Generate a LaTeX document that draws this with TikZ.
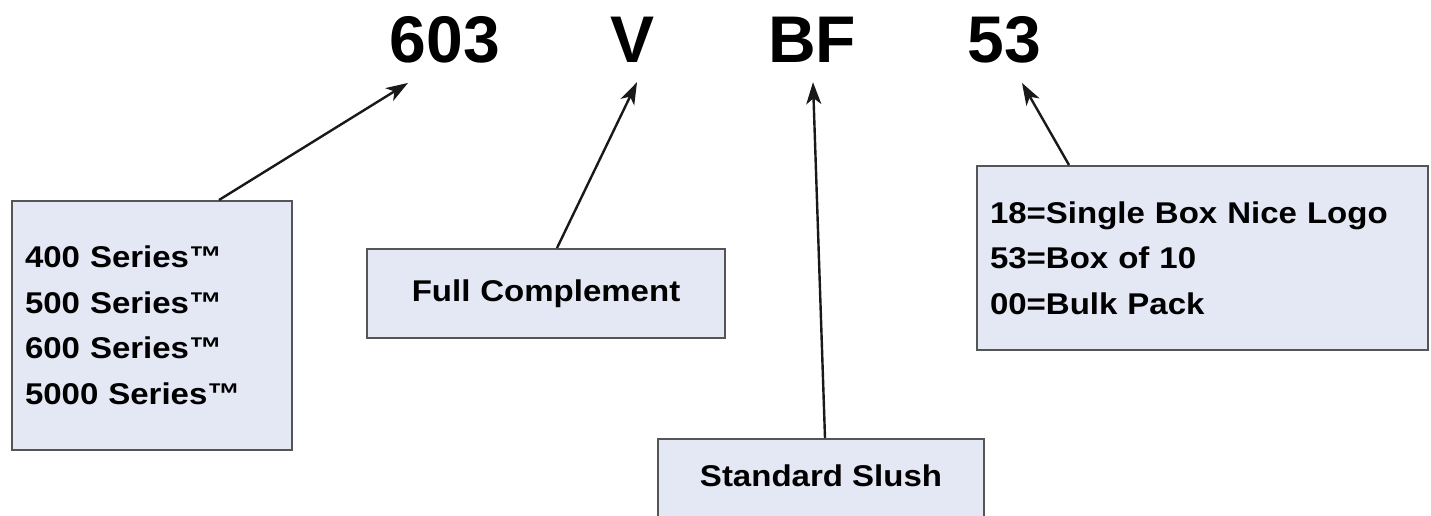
\documentclass[tikz,border=0pt]{standalone}
\usepackage{fontspec}
\setmainfont{Liberation Sans}
\newfontfamily\boxfont[FakeStretch=1.1]{Liberation Sans}
\usetikzlibrary{arrows.meta}
\definecolor{boxfill}{HTML}{E4E7F4}
\definecolor{boxline}{HTML}{555555}
\begin{document}
\begin{tikzpicture}[x=1pt,y=-1pt,
  codepart/.style={font=\bfseries\fontsize{66}{66}\selectfont, inner sep=0pt, anchor=base},
  infobox/.style={draw=boxline, line width=2pt, fill=boxfill, inner xsep=13pt, inner ysep=0pt,
    font=\boxfont\bfseries\fontsize{30}{45.5}\selectfont},
  arr/.style={line width=2.4pt, draw=black!90, -{Stealth[length=22pt,width=15pt,inset=6pt]}}]
\useasboundingbox (0,0) rectangle (1431,516);
\fill[white] (0,0) rectangle (1431,516);
\clip (0,0) rectangle (1431,516);

% code parts
\node[codepart] (t603) at (445,63) {603};
\node[codepart] (tV)   at (633,63) {V};
\node[codepart] (tBF)  at (812,63) {BF};
\node[codepart] (t53)  at (1004,63) {53};

% boxes
\node[infobox, align=left, text width=254pt, minimum height=249pt] (b1) at (152,325.5)
  {400 Series™\\500 Series™\\600 Series™\\5000 Series™};
\node[infobox, align=center, text width=332pt, minimum height=89pt] (b2) at (546,293.5)
  {Full Complement};
\node[infobox, align=left, text width=425pt, minimum height=184pt] (b3) at (1202.5,258)
  {18=Single Box Nice Logo\\53=Box of 10\\00=Bulk Pack};
\node[infobox, anchor=north, minimum width=326pt, text height=47pt, text depth=55pt] (b4) at (821,438)
  {Standard Slush};

% connectors
\draw[arr] ([xshift=208pt]b1.north west) -- ([xshift=-37pt,yshift=-19pt]t603.south);
\draw[arr] ([xshift=191pt]b2.north west) -- ([xshift=4pt,yshift=-19pt]tV.south);
\draw[arr] ([xshift=4pt]b4.north) -- ([xshift=1pt,yshift=-19pt]tBF.south);
\draw[arr] ([xshift=93pt]b3.north west) -- ([xshift=18pt,yshift=-19pt]t53.south);
\end{tikzpicture}
\end{document}
